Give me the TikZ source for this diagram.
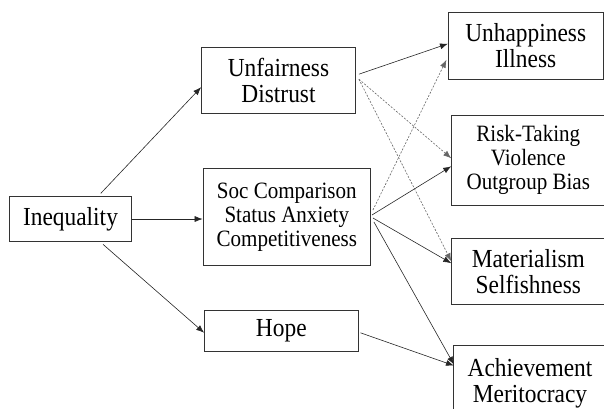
\documentclass[tikz,border=0pt]{standalone}
\usepackage{fontspec}
\setmainfont[FakeStretch=0.9]{Liberation Serif}
\usetikzlibrary{calc}
\usetikzlibrary{arrows.meta}

\begin{document}
\begin{tikzpicture}[x=1pt, y=-1pt,
		box/.style={draw=black!80, line width=0.8pt, align=center, inner sep=0pt, font=\fontsize{26}{26}\selectfont},
		smalltext/.style={font=\fontsize{23.4}{24}\selectfont},
		link/.style={draw=black!85, line width=0.6pt, -{Latex[length=8pt, width=6pt]}},
		weak/.style={link, draw=black!60, dash pattern=on 2pt off 1.5pt}
	]
		\useasboundingbox (0, 0) rectangle (604, 408);
		
		% (left column)
		\node[box, minimum width=122pt, minimum height=44.6pt] (ineq) at (70.5, 219) {Inequality};
		
		% (middle column)
		\node[box, minimum width=154pt, minimum height=66.3pt] (unf) at (278.5, 80.2) {Unfairness\\Distrust};
		\node[box, smalltext, minimum width=167.5pt, minimum height=96.6pt] (soc) at (286.8, 217) {Soc Comparison\\Status Anxiety\\Competitiveness};
		\node[box, minimum width=153.5pt, minimum height=41.5pt] (hope) at (281.3, 330.8) {Hope};
		
		% (right column)
		\node[box, minimum width=154.7pt, minimum height=66.7pt] (unh) at (525.7, 45.7) {Unhappiness\\Illness};
		\node[box, smalltext, minimum width=153.3pt, minimum height=89.3pt] (risk) at (528.3, 160.3) {Risk-Taking\\Violence\\Outgroup Bias};
		\node[box, minimum width=153.3pt, minimum height=65.7pt] (mat) at (528.3, 271.2) {Materialism\\Selfishness};
		\node[box, minimum width=153.3pt, minimum height=76.6pt] (ach) at (530, 383.3) {Achievement\\Meritocracy};
		
		\draw[link, shorten <=4pt] ($(ineq.north)+(27.5,0)$) -- ($(unf.west)+(0,7)$);
		\draw[link] (ineq.east) -- (ineq.east -| soc.west);
		\draw[link, shorten <=4pt] ($(ineq.south)+(29.5,0)$) -- ($(hope.west)+(0,2)$);
		
		\draw[link] ($(unf.east)+(3,-6)$) -- ($(unh.west)+(0,-2)$);
		\draw[weak] ($(unf.east)+(3,-1)$) -- ($(risk.west)+(0,-2)$);
		\draw[weak] ($(unf.east)+(3,-1)$) -- ($(mat.west)+(0,-10)$);
		
		\draw[weak] ($(soc.east)+(2,-7)$) -- ($(unh.west)+(-1.5,14)$);
		\draw[link] ($(soc.east)+(1,-2)$) -- ($(risk.west)+(0,6)$);
		\draw[link] ($(soc.east)+(2,1)$) -- ($(mat.west)+(0,-8)$);
		\draw[link] ($(soc.east)+(3,5)$) -- ($(ach.north west)+(1,20)$);
		
		\draw[link] ($(hope.east)+(2,2)$) -- ($(ach.north west)+(1,21)$);
		
	\end{tikzpicture}
\end{document}
